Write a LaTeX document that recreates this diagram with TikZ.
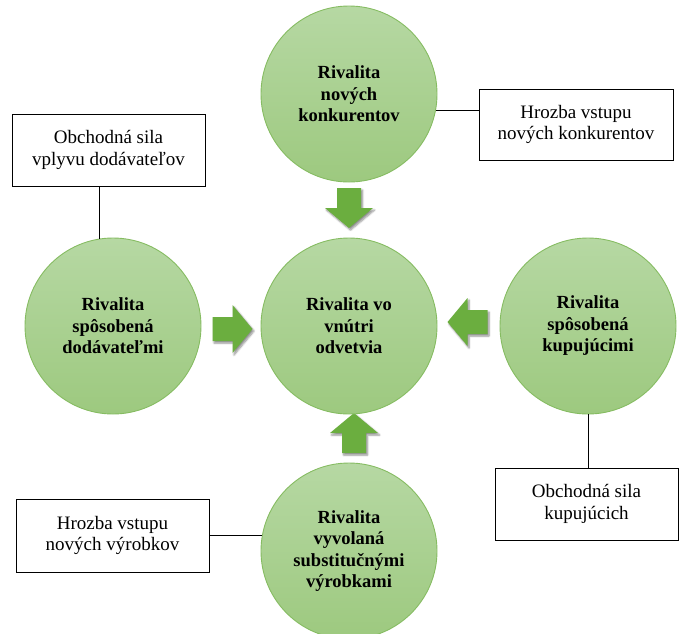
\documentclass[tikz,border=0pt]{standalone}
\usepackage{fontspec}
\setmainfont{Liberation Serif}
\usetikzlibrary{shadows.blur}
\definecolor{circtop}{HTML}{B6D8A3}
\definecolor{circbot}{HTML}{9DC97F}
\definecolor{circedge}{HTML}{86BC62}
\definecolor{arrowgreen}{HTML}{6BAE3F}
\tikzset{
  circ/.style={circle, minimum size=176pt, inner sep=0pt, draw=circedge, line width=0.9pt,
    top color=circtop, bottom color=circbot, align=center,
    font=\fontsize{18.5}{21.5}\selectfont\bfseries},
  infobox/.style={draw=black, line width=0.8pt, fill=white, align=center, inner sep=0pt,
    font=\fontsize{19}{21.5}\selectfont},
  link/.style={draw=black, line width=0.8pt},
  blockarrow/.pic={
    \fill[arrowgreen, blur shadow={shadow xshift=1.5pt, shadow yshift=-2pt, shadow blur steps=6, shadow opacity=45}]
      (-20,-12) -- (0,-12) -- (0,-24) -- (20,0) -- (0,24) -- (0,12) -- (-20,12) -- cycle;
  }
}
\begin{document}
\begin{tikzpicture}[x=1pt, y=-1pt]
\useasboundingbox (0,0) rectangle (679,633);
\clip (0,0) rectangle (679,633);
% arrows
\pic[rotate=-90] at (349,208) {blockarrow};
\pic at (232.5,329) {blockarrow};
\pic[rotate=180] at (467.5,322) {blockarrow};
\pic[rotate=90] at (354,433) {blockarrow};
% circles
\node[circ] (top) at (349,94) {Rivalita\\nových\\konkurentov};
\node[circ] (mid) at (349,326) {Rivalita vo\\vnútri\\odvetvia};
\node[circ] (left) at (113,326) {Rivalita\\spôsobená\\dodávateľmi};
\node[circ] (right) at (588,326) {Rivalita\\spôsobená\\kupujúcimi};
\node[circ] (bot) at (349,551) {\raisebox{9pt}{\begin{tabular}{@{}c@{}}Rivalita\\vyvolaná\\substitučnými\\výrobkami\end{tabular}}};
% boxes
\node[infobox, minimum width=194pt, minimum height=71pt] (trbox) at (576,124.5) {Hrozba vstupu\\nových konkurentov};
\node[infobox, minimum width=193pt, minimum height=72pt] (lbox) at (108.5,150) {Obchodná sila\\vplyvu dodávateľov};
\node[infobox, minimum width=183pt, minimum height=72pt] (brbox) at (586.5,504) {Obchodná sila\\kupujúcich};
\node[infobox, minimum width=193pt, minimum height=73pt] (blbox) at (112.5,535.5) {Hrozba vstupu\\nových výrobkov};
% links
\draw[link] (top.-11.8) -- (top.-11.8 -| trbox.west);
\draw[link] (left.99.8) -- (left.99.8 |- lbox.south);
\draw[link] (right.south) -- (right.south |- brbox.north);
\draw[link] (bot.170.2) -- (bot.170.2 -| blbox.east);
\end{tikzpicture}
\end{document}
